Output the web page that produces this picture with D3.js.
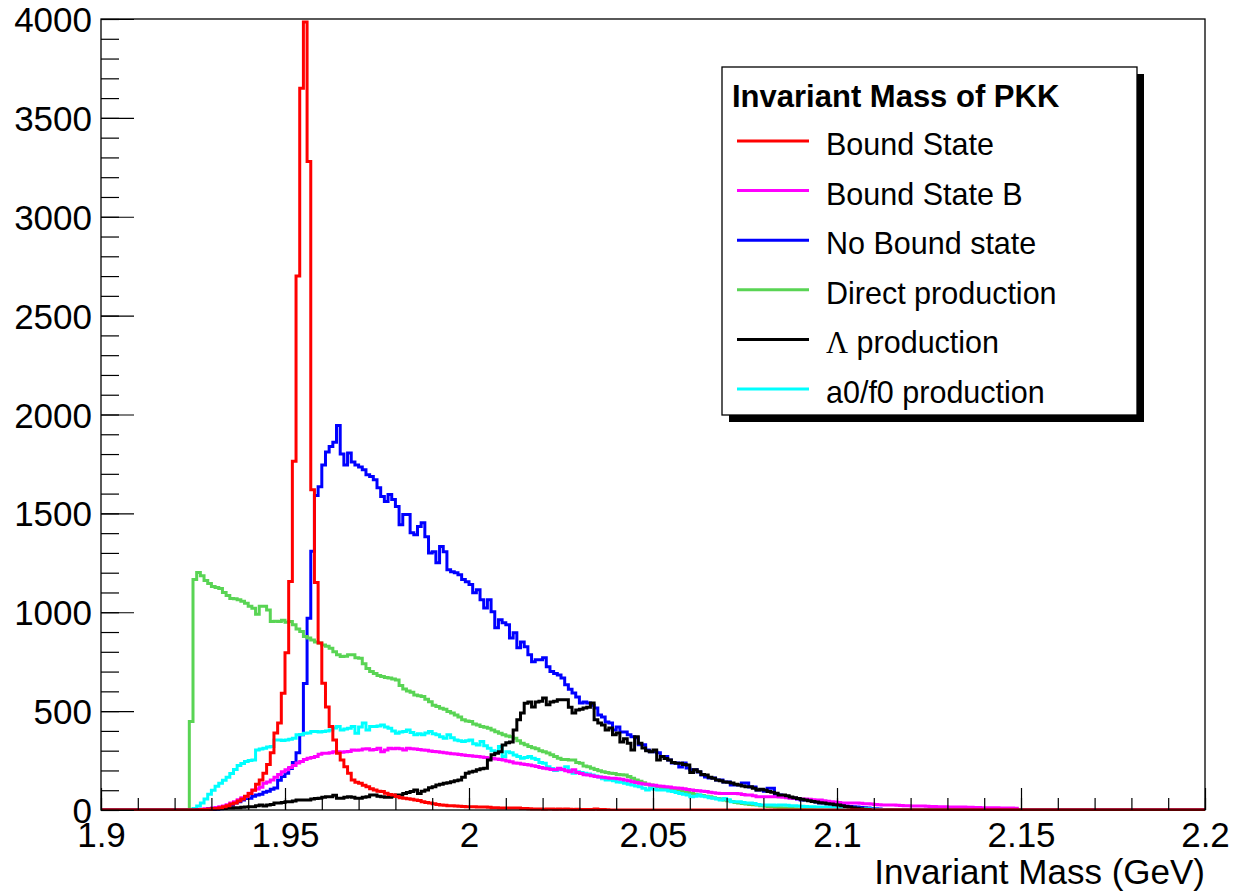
<!DOCTYPE html>
<html>
<head>
<meta charset="utf-8">
<script src="https://cdnjs.cloudflare.com/ajax/libs/d3/7.8.5/d3.min.js"></script>
<style>
  html, body { margin: 0; padding: 0; background: #fff; }
  svg { display: block; font-family: 'Liberation Sans', Arial, Helvetica, sans-serif; }
</style>
</head>
<body>
<svg id="chart" width="1233" height="893"></svg>
<script>
const width = 1233;
const height = 893;
const frame = { left: 101, top: 19, right: 1205, bottom: 810 };

// histogram binning: 300 bins of 1 MeV from 1.9 to 2.2 GeV
const binLow = 1.9;
const binWidth = 0.001;
const nBins = 300;

const xTicks = [1.9, 1.95, 2, 2.05, 2.1, 2.15, 2.2];
const yTicks = [0, 500, 1000, 1500, 2000, 2500, 3000, 3500, 4000];

// bin contents, each list starts at the given bin index
const boundStateStart = 27;
const boundState = [2,3,4,6,8,12,17,22,30,35,45,55,70,84,100,130,152,186,230,290,390,440,590,795,1155,1763,2700,3650,3985,3280,1620,1150,845,641,521,422,354,287,253,219,186,152,140,135,125,118,108,101,95,93,85,78,76,68,62,60,57,54,51,48,42,38,35,32,28,25,24,22,21,20,19,18,17,17,16,15,15,15,14,12,11,10,10,10,10,10,10,8,7,6,5,5,5,4,5,5,4,5,4,5,4,3,4,3,3,2,3,5,3,2,1];

const boundStateBStart = 26;
const boundStateB = [2,4,6,8,10,13,16,20,27,35,42,52,62,67,85,101,106,115,135,142,152,165,180,194,203,215,225,238,245,255,262,265,270,282,287,287,290,294,294,292,294,296,304,302,304,308,310,304,306,312,294,304,312,310,312,310,304,312,310,308,306,304,302,298,296,294,292,290,287,285,283,281,278,276,274,272,270,268,265,262,260,258,256,253,248,244,238,236,233,230,228,224,220,215,211,208,205,203,211,205,198,194,203,190,185,178,177,173,170,167,165,163,161,160,158,155,152,148,143,139,135,132,130,127,125,122,120,118,116,113,111,110,107,104,101,99,97,95,93,90,87,85,84,84,84,84,84,82,78,76,76,72,67,67,67,67,67,67,66,64,62,60,59,57,56,55,54,52,51,50,47,44,42,40,38,36,35,35,35,35,34,32,31,30,28,26,25,25,25,25,24,23,22,21,20,20,20,20,19,18,18,17,17,16,15,15,15,15,15,14,14,13,13,12,12,12,11,11,10,10,10,10,9];

const noBoundStart = 30;
const noBound = [2,4,6,9,13,25,35,42,51,58,60,70,76,80,90,95,105,111,150,170,186,210,240,290,380,640,970,1308,1590,1635,1745,1810,1838,1860,1945,1800,1745,1805,1760,1745,1735,1720,1695,1686,1670,1630,1585,1560,1595,1570,1535,1443,1494,1494,1402,1392,1433,1453,1382,1300,1306,1250,1332,1306,1215,1205,1200,1190,1165,1154,1140,1098,1114,1063,1022,1063,1002,921,962,947,937,870,896,820,850,825,785,750,760,760,770,724,700,690,683,668,633,610,592,572,541,546,541,530,516,481,470,445,440,405,420,395,395,380,370,365,330,330,304,294,294,289,270,270,253,238,238,218,238,213,203,203,192,177,167,162,162,152,152,142,142,127,127,127,137,137,116,116,101,101,95,110,110,80,76,70,66,62,60,55,51,51,48,45,40,35,35,32,30,27,25,22,20,18,17,15,13,11,10,8,6,5,3,2,1];

const directStart = 24;
const direct = [447,1165,1201,1185,1160,1145,1130,1125,1120,1100,1085,1070,1068,1063,1055,1046,1030,1020,990,1030,1030,1012,953,955,953,960,950,953,937,915,903,877,870,860,850,845,835,828,818,800,785,776,778,785,785,770,768,740,715,700,690,680,675,670,667,662,658,630,612,602,595,582,578,574,560,548,530,523,515,510,498,490,481,470,456,450,447,435,430,422,418,414,405,396,388,380,374,370,363,350,338,330,321,315,310,300,295,288,280,270,262,256,255,253,253,240,236,222,219,211,205,198,194,190,186,184,180,178,177,170,160,152,145,138,130,127,122,118,114,110,106,103,100,96,92,88,84,80,76,73,70,67,62,58,55,51,47,43,38,35,33,30,28,26,25,22,20,18,16,14,12,10,9,8,6,5,4,3,2,2,1,1];

const lambdaStart = 27;
const lambda = [2,3,4,5,6,7,8,10,10,11,12,14,15,17,17,22,25,20,25,28,35,35,38,42,42,46,51,51,50,51,55,58,60,64,67,67,75,60,60,64,67,64,60,60,65,67,76,76,70,67,65,65,70,76,76,84,88,93,101,84,95,101,112,118,127,130,135,138,143,148,152,165,186,192,196,203,208,211,253,280,287,294,329,340,344,405,456,490,540,546,521,546,550,567,532,546,550,557,557,557,520,490,506,510,516,520,541,456,440,430,405,415,380,390,344,360,338,304,370,338,314,300,294,304,253,270,260,253,240,236,236,230,228,190,203,194,180,177,165,160,152,148,142,140,137,130,127,122,118,118,110,101,105,101,93,90,85,76,76,72,66,62,58,54,51,47,43,40,37,35,32,30,27,25,22,18,15,12,9,6,4,2];

const a0f0Start = 25;
const a0f0 = [8,20,35,55,80,100,120,135,150,165,185,205,225,235,245,250,253,304,308,312,318,321,354,354,352,354,358,363,380,382,388,390,397,397,395,397,400,405,415,422,405,410,413,422,388,420,440,405,422,422,425,430,420,413,400,388,395,397,405,392,380,385,380,390,397,385,380,370,363,380,365,354,350,346,350,354,335,329,346,325,312,300,294,321,270,294,290,278,270,262,266,270,262,255,240,236,219,210,200,203,203,219,200,186,194,190,186,182,177,172,167,158,152,152,148,142,140,135,130,127,122,118,110,101,110,105,101,101,101,96,93,88,84,80,76,67,70,76,70,67,62,60,55,51,58,52,42,42,42,38,35,35,33,28,25,25,25,25,24,25,25,24,22,22,20,19,18,17,16,15,15,15,15,14,14,13,12,12,11,10,9,8,7,6,5,4,3,2,1];

const legendTitle = 'Invariant Mass of PKK';
const xTitle = 'Invariant Mass (GeV)';

// legend order
const series = [
  { name: 'Bound State', color: '#ff0000', start: boundStateStart, values: boundState },
  { name: 'Bound State B', color: '#ff00ff', start: boundStateBStart, values: boundStateB },
  { name: 'No Bound state', color: '#0000ff', start: noBoundStart, values: noBound },
  { name: 'Direct production', color: '#59d454', start: directStart, values: direct },
  { name: '\u039B production', color: '#000000', start: lambdaStart, values: lambda },
  { name: 'a0/f0 production', color: '#00ffff', start: a0f0Start, values: a0f0 }
];
// drawing order, red last so its zero line sits on top
const drawOrder = [2, 3, 5, 1, 4, 0];

const x = d3.scaleLinear().domain([1.9, 2.2]).range([frame.left, frame.right]);
const y = d3.scaleLinear().domain([0, 4000]).range([frame.bottom, frame.top]);

const svg = d3.select('#chart');

function toBins(s) {
  return d3.range(nBins).map(i => {
    const j = i - s.start;
    return j >= 0 && j < s.values.length ? s.values[j] : 0;
  });
}

function renderHistograms() {
  svg.append('clipPath')
    .attr('id', 'frame-clip')
    .append('rect')
    .attr('x', frame.left)
    .attr('y', frame.top - 1)
    .attr('width', frame.right - frame.left)
    .attr('height', frame.bottom - frame.top + 2);

  const line = d3.line()
    .x(d => x(d[0]))
    .y(d => y(d[1]))
    .curve(d3.curveStepAfter);

  const g = svg.append('g').attr('clip-path', 'url(#frame-clip)');

  drawOrder.forEach(idx => {
    const s = series[idx];
    const bins = toBins(s);
    const pts = bins.map((v, i) => [binLow + i * binWidth, v]);
    pts.push([binLow + nBins * binWidth, bins[nBins - 1]]);
    g.append('path')
      .datum(pts)
      .attr('fill', 'none')
      .attr('stroke', s.color)
      .attr('stroke-width', 3)
      .attr('stroke-linejoin', 'miter')
      .attr('d', line);
  });
}

function renderAxes() {
  const yMinor = d3.range(0, 4001, 100);
  const xMinor = d3.range(190, 221).map(v => v / 100);

  svg.append('g')
    .attr('transform', `translate(${frame.left},0)`)
    .call(d3.axisLeft(y).tickValues(yMinor).tickSize(-18).tickFormat(''))
    .call(g => g.select('.domain').remove());

  svg.append('g')
    .attr('transform', `translate(${frame.left},0)`)
    .call(d3.axisLeft(y).tickValues(yTicks).tickSize(-33).tickPadding(9).tickFormat(d3.format('d')))
    .call(g => g.select('.domain').remove())
    .call(g => g.selectAll('text')
      .attr('font-size', 35)
      .attr('font-family', "'Liberation Sans', Arial, Helvetica, sans-serif")
      .attr('fill', '#000')
      .attr('dy', '0.36em'));

  svg.append('g')
    .attr('transform', `translate(0,${frame.bottom})`)
    .call(d3.axisBottom(x).tickValues(xMinor).tickSize(-12).tickFormat(''))
    .call(g => g.select('.domain').remove());

  svg.append('g')
    .attr('transform', `translate(0,${frame.bottom})`)
    .call(d3.axisBottom(x).tickValues(xTicks).tickSize(-22).tickPadding(12).tickFormat(d3.format('~g')))
    .call(g => g.select('.domain').remove())
    .call(g => g.selectAll('text')
      .attr('font-size', 35)
      .attr('font-family', "'Liberation Sans', Arial, Helvetica, sans-serif")
      .attr('fill', '#000'));

  svg.selectAll('.tick line').attr('stroke', '#000').attr('stroke-width', 1.2);

  svg.append('rect')
    .attr('x', frame.left)
    .attr('y', frame.top)
    .attr('width', frame.right - frame.left)
    .attr('height', frame.bottom - frame.top)
    .attr('fill', 'none')
    .attr('stroke', '#000')
    .attr('stroke-width', 1.3);

  svg.append('text')
    .attr('x', frame.right)
    .attr('y', 884)
    .attr('text-anchor', 'end')
    .attr('font-size', 35)
    .text(xTitle);
}

function renderLegend() {
  const box = { x: 722, y: 67, w: 415, h: 348 };
  const g = svg.append('g');

  g.append('rect')
    .attr('x', box.x + 7).attr('y', box.y + 7)
    .attr('width', box.w).attr('height', box.h)
    .attr('fill', '#000');
  g.append('rect')
    .attr('x', box.x).attr('y', box.y)
    .attr('width', box.w).attr('height', box.h)
    .attr('fill', '#fff')
    .attr('stroke', '#000')
    .attr('stroke-width', 1.3);

  g.append('text')
    .attr('x', box.x + 10)
    .attr('y', 107)
    .attr('font-size', 31)
    .attr('font-weight', 'bold')
    .text(legendTitle);

  const rowY = i => 141 + i * 49.6;

  series.forEach((s, i) => {
    g.append('line')
      .attr('x1', 737).attr('x2', 809)
      .attr('y1', rowY(i)).attr('y2', rowY(i))
      .attr('stroke', s.color)
      .attr('stroke-width', 3);

    const t = g.append('text')
      .attr('x', 826)
      .attr('y', rowY(i) + 14)
      .attr('font-size', 30.5);
    if (s.name.startsWith('\u039B')) {
      t.append('tspan')
        .attr('font-family', "'Liberation Serif', 'DejaVu Serif', serif")
        .text('\u039B');
      t.append('tspan').text(s.name.slice(1));
    } else {
      t.text(s.name);
    }
  });
}

renderHistograms();
renderAxes();
renderLegend();
</script>
</body>
</html>
